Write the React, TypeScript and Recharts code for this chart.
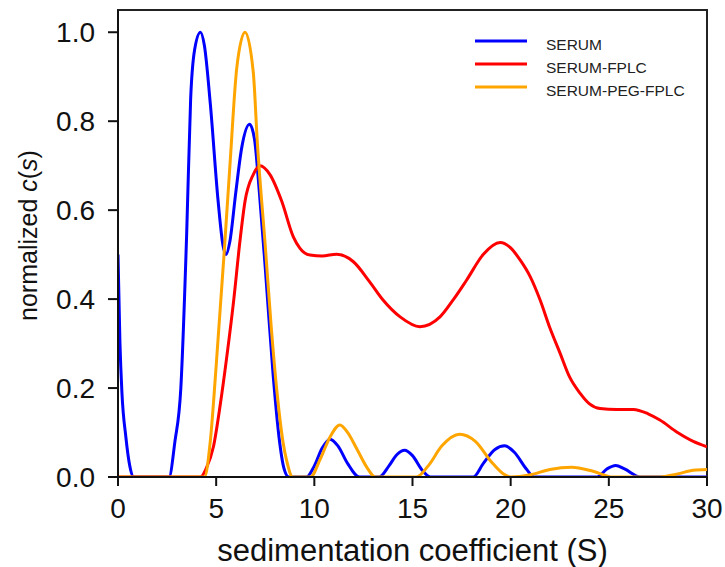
import React from "react";
import {
  LineChart,
  Line,
  XAxis,
  YAxis,
  Legend,
  Label,
  ReferenceArea
} from "recharts";

interface Point {
  s: number;
  c: number;
}

// sedimentation coefficient (S) vs normalized c(s)
const serum: Point[] = [
  { s: 0, c: 0.5 }, { s: 0.1, c: 0.3 }, { s: 0.2, c: 0.19 }, { s: 0.4, c: 0.09 },
  { s: 0.6, c: 0.025 }, { s: 0.8, c: 0 }, { s: 2.6, c: 0 }, { s: 2.9, c: 0.08 },
  { s: 3.2, c: 0.2 }, { s: 3.5, c: 0.55 }, { s: 3.7, c: 0.85 }, { s: 3.9, c: 0.96 },
  { s: 4.2, c: 1.0 }, { s: 4.4, c: 0.97 }, { s: 4.7, c: 0.84 }, { s: 5.1, c: 0.62 },
  { s: 5.35, c: 0.52 }, { s: 5.5, c: 0.5 }, { s: 5.7, c: 0.53 }, { s: 6.0, c: 0.64 },
  { s: 6.3, c: 0.74 }, { s: 6.7, c: 0.793 }, { s: 6.95, c: 0.76 }, { s: 7.2, c: 0.64 },
  { s: 7.5, c: 0.47 }, { s: 7.9, c: 0.23 }, { s: 8.2, c: 0.09 }, { s: 8.45, c: 0.02 },
  { s: 8.7, c: 0 }, { s: 9.6, c: 0 }, { s: 10.0, c: 0.025 }, { s: 10.4, c: 0.065 },
  { s: 10.8, c: 0.085 }, { s: 11.2, c: 0.07 }, { s: 11.7, c: 0.03 }, { s: 12.3, c: 0 },
  { s: 13.3, c: 0 }, { s: 13.8, c: 0.025 }, { s: 14.2, c: 0.05 }, { s: 14.6, c: 0.06 },
  { s: 15.0, c: 0.048 }, { s: 15.5, c: 0.015 }, { s: 15.9, c: 0 }, { s: 18.1, c: 0 },
  { s: 18.6, c: 0.03 }, { s: 19.2, c: 0.062 }, { s: 19.7, c: 0.07 }, { s: 20.2, c: 0.055 },
  { s: 20.8, c: 0.018 }, { s: 21.2, c: 0 }, { s: 24.4, c: 0 }, { s: 24.9, c: 0.018 },
  { s: 25.35, c: 0.026 }, { s: 25.8, c: 0.018 }, { s: 26.6, c: 0 }, { s: 30, c: 0 }
];

const serumFplc: Point[] = [
  { s: 0, c: 0 }, { s: 4.2, c: 0 }, { s: 4.5, c: 0.02 }, { s: 4.86, c: 0.068 },
  { s: 5.2, c: 0.16 }, { s: 5.54, c: 0.27 }, { s: 5.9, c: 0.4 }, { s: 6.21, c: 0.53 },
  { s: 6.47, c: 0.62 }, { s: 6.89, c: 0.68 }, { s: 7.23, c: 0.7 }, { s: 7.74, c: 0.68 },
  { s: 8.34, c: 0.62 }, { s: 8.93, c: 0.54 }, { s: 9.27, c: 0.514 }, { s: 9.78, c: 0.499 },
  { s: 10.4, c: 0.497 }, { s: 11.14, c: 0.501 }, { s: 11.99, c: 0.484 }, { s: 12.8, c: 0.44 },
  { s: 13.5, c: 0.398 }, { s: 14.37, c: 0.36 }, { s: 15.38, c: 0.338 }, { s: 16.4, c: 0.36 },
  { s: 17.1, c: 0.4 }, { s: 17.76, c: 0.443 }, { s: 18.6, c: 0.5 }, { s: 19.46, c: 0.527 },
  { s: 20.0, c: 0.515 }, { s: 20.48, c: 0.488 }, { s: 21.0, c: 0.45 }, { s: 21.5, c: 0.398 },
  { s: 22.0, c: 0.335 }, { s: 22.52, c: 0.278 }, { s: 23.0, c: 0.225 }, { s: 23.54, c: 0.188 },
  { s: 24.0, c: 0.165 }, { s: 24.55, c: 0.154 }, { s: 25.4, c: 0.152 }, { s: 26.25, c: 0.152 },
  { s: 27.0, c: 0.142 }, { s: 27.6, c: 0.128 }, { s: 28.5, c: 0.1 }, { s: 29.3, c: 0.08 },
  { s: 30, c: 0.068 }
];

const serumPegFplc: Point[] = [
  { s: 0, c: 0 }, { s: 4.4, c: 0 }, { s: 4.7, c: 0.08 }, { s: 5.0, c: 0.25 },
  { s: 5.4, c: 0.5 }, { s: 5.7, c: 0.7 }, { s: 6.05, c: 0.92 }, { s: 6.47, c: 1.0 },
  { s: 6.89, c: 0.91 }, { s: 7.1, c: 0.75 }, { s: 7.5, c: 0.52 }, { s: 7.8, c: 0.34 },
  { s: 8.1, c: 0.19 }, { s: 8.4, c: 0.08 }, { s: 8.6, c: 0.035 }, { s: 8.9, c: 0 },
  { s: 9.8, c: 0 }, { s: 10.3, c: 0.04 }, { s: 10.8, c: 0.09 }, { s: 11.3, c: 0.117 },
  { s: 11.7, c: 0.1 }, { s: 12.2, c: 0.06 }, { s: 12.7, c: 0.02 }, { s: 13.1, c: 0 },
  { s: 15.2, c: 0 }, { s: 15.8, c: 0.025 }, { s: 16.5, c: 0.07 }, { s: 17.4, c: 0.096 },
  { s: 18.2, c: 0.08 }, { s: 19.0, c: 0.035 }, { s: 19.6, c: 0.008 }, { s: 20.0, c: 0 },
  { s: 21.0, c: 0.005 }, { s: 22.0, c: 0.017 }, { s: 23.1, c: 0.022 }, { s: 24.2, c: 0.013 },
  { s: 25.2, c: 0 }, { s: 27.6, c: 0 }, { s: 28.5, c: 0.007 }, { s: 29.3, c: 0.015 },
  { s: 30, c: 0.017 }
];

const xTicks = [0, 5, 10, 15, 20, 25, 30];
const yTicks = [0, 0.2, 0.4, 0.6, 0.8, 1.0];

const seriesList = [
  { name: "SERUM", data: serum, color: "#0000ff" },
  { name: "SERUM-FPLC", data: serumFplc, color: "#ff0000" },
  { name: "SERUM-PEG-FPLC", data: serumPegFplc, color: "#ffa500" }
];

const FONT = "Liberation Sans, Arial, sans-serif";

const LegendBox = () => (
  <svg width={240} height={80} style={{ overflow: "visible" }}>
    {seriesList.map((s, i) => (
      <g key={s.name}>
        <line x1={0} x2={52} y1={10 + i * 23} y2={10 + i * 23} stroke={s.color} strokeWidth={3} />
        <text x={71} y={13 + i * 23} dy="0.36em" fontSize={15.5} fontFamily={FONT} fill="#222">
          {s.name}
        </text>
      </g>
    ))}
  </svg>
);

const YLabel = (props: any) => {
  const vb = props.viewBox || { x: 0, y: 0, height: 0 };
  const cy = vb.y + vb.height / 2 - 8;
  const cx = 37;
  return (
    <text
      x={cx}
      y={cy}
      transform={`rotate(-90, ${cx}, ${cy})`}
      textAnchor="middle"
      fontSize={25}
      fontFamily={FONT}
      fill="#111"
    >
      normalized <tspan fontStyle="italic">c</tspan>(<tspan fontStyle="italic">s</tspan>)
    </text>
  );
};

const App: React.FC = () => {
  return (
    <div style={{ position: "absolute", left: 0, top: 0, background: "#fff" }}>
      <LineChart width={725} height={567} margin={{ top: 10, right: 18, left: 0, bottom: 0 }}>
        <XAxis
          type="number"
          dataKey="s"
          domain={[0, 30]}
          ticks={xTicks}
          allowDataOverflow
          height={90}
          tickSize={9}
          tickMargin={12}
          stroke="#111"
          strokeWidth={2}
          tick={{ fill: "#111", fontSize: 28, fontFamily: FONT }}
        >
          <Label
            value="sedimentation coefficient (S)"
            position="insideBottom"
            offset={6}
            style={{ fill: "#111", fontSize: 31, fontFamily: FONT }}
          />
        </XAxis>
        <YAxis
          type="number"
          dataKey="c"
          domain={[0, 1.05]}
          ticks={yTicks}
          allowDataOverflow
          width={118}
          tickSize={10}
          tickMargin={13}
          stroke="#111"
          strokeWidth={2}
          tickFormatter={(v: number) => v.toFixed(1)}
          tick={{ fill: "#111", fontSize: 28, fontFamily: FONT }}
        >
          <Label content={<YLabel />} />
        </YAxis>
        <ReferenceArea x1={0} x2={30} y1={0} y2={1.05} fill="none" stroke="#222" strokeWidth={2} ifOverflow="visible" />
        {seriesList.map((s) => (
          <Line
            key={s.name}
            data={s.data}
            dataKey="c"
            name={s.name}
            type="monotone"
            stroke={s.color}
            strokeWidth={3}
            dot={false}
            activeDot={false}
            isAnimationActive={false}
          />
        ))}
        <Legend
          content={<LegendBox />}
          wrapperStyle={{ position: "absolute", top: 31, left: 475, width: 0, height: 0, overflow: "visible" }}
        />
      </LineChart>
    </div>
  );
};

export default App;
